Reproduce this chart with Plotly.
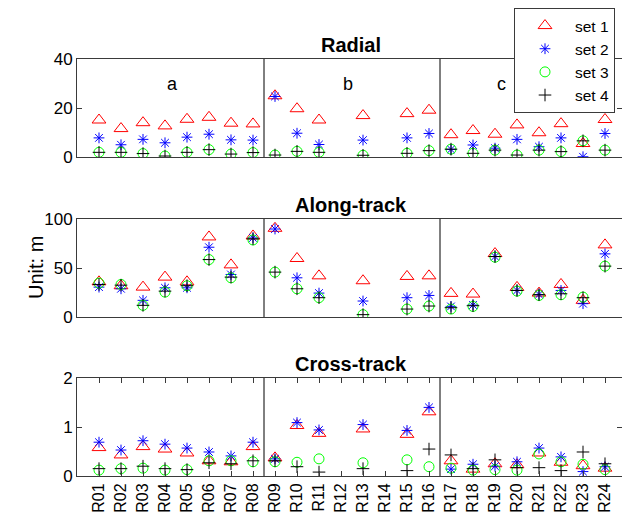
import plotly.graph_objects as go

stations = ["R%02d" % i for i in range(1, 25)]
xpos = list(range(1, len(stations) + 1))

N = None
radial_s1 = [15.1, 11.6, 14.0, 12.7, 15.4, 16.2, 13.8, 13.5, 25.0, 19.7, 15.1, N, 16.9, N, 17.7, 19.1, 9.1, 10.8, 9.3, 13.1, 9.9, 13.6, 5.5, 15.3]
radial_s2 = [7.8, 5.0, 7.2, 5.8, 8.1, 9.3, 7.0, 6.9, 24.7, 9.7, 5.1, N, 6.9, N, 7.8, 9.6, 3.1, 4.9, 3.6, 7.2, 4.2, 7.8, 0.1, 9.6]
radial_s3 = [1.9, 1.9, 1.4, 0.4, 1.9, 3.0, 1.2, 1.8, 0.8, 2.3, 1.9, N, 0.7, N, 1.5, 2.6, 3.2, 1.5, 2.8, 0.8, 2.8, 2.2, 6.6, 2.8]
radial_s4 = [1.9, 1.9, 1.4, 0.4, 1.9, 3.0, 1.2, 1.8, 0.8, 2.3, 1.9, N, 0.7, N, 1.5, 2.6, 3.2, 1.5, 2.8, 0.8, 2.8, 2.2, 6.6, 2.8]

along_s1 = [35.9, 31.9, 30.5, 40.7, 35.9, 81.7, 53.2, 82.7, 90.5, 59.7, 42.0, N, 37.0, N, 41.4, 42.0, 24.1, 23.4, 64.7, 30.2, 24.4, 33.2, 17.0, 73.6]
along_s2 = [30.5, 28.8, 17.0, 29.8, 29.8, 71.2, 43.4, 80.7, 89.8, 40.0, 24.4, N, 16.3, N, 19.7, 22.0, 10.8, 12.2, 61.7, 27.1, 23.0, 27.1, 13.6, 64.4]
along_s3 = [34.6, 33.2, 11.9, 25.4, 31.9, 58.6, 40.0, 78.6, 45.8, 28.8, 19.7, N, 2.4, N, 8.1, 11.2, 8.1, 10.8, 61.0, 26.4, 22.0, 22.7, 20.3, 51.9]
along_s4 = [33.2, 32.5, 11.9, 26.4, 31.9, 58.6, 40.7, 79.7, 45.8, 28.8, 19.7, N, 2.4, N, 8.1, 11.2, 9.5, 11.5, 61.7, 27.1, 22.7, 23.7, 19.7, 51.9]

cross_s1 = [0.58, 0.43, 0.60, 0.55, 0.47, 0.31, 0.29, 0.60, 0.37, 1.03, 0.87, N, 0.96, N, 0.85, 1.31, 0.31, 0.14, 0.25, 0.23, 0.47, 0.28, 0.21, 0.16]
cross_s2 = [0.69, 0.53, 0.72, 0.65, 0.57, 0.49, 0.41, 0.69, 0.35, 1.09, 0.94, N, 1.05, N, 0.93, 1.40, 0.14, 0.24, 0.20, 0.29, 0.57, 0.39, 0.09, 0.19]
cross_s3 = [0.12, 0.15, 0.16, 0.12, 0.13, 0.31, 0.31, 0.29, 0.29, 0.28, 0.35, N, 0.27, N, 0.33, 0.19, 0.16, 0.12, 0.13, 0.12, 0.45, 0.29, 0.24, 0.13]
cross_s4 = [0.15, 0.15, 0.20, 0.15, 0.13, 0.27, 0.25, 0.31, 0.31, 0.19, 0.08, N, 0.15, N, 0.11, 0.55, 0.43, 0.15, 0.33, 0.17, 0.17, 0.11, 0.49, 0.25]

set_names = ["set 1", "set 2", "set 3", "set 4"]
set_colors = ["#FF0000", "#0000FF", "#00FF00", "#000000"]
set_symbols = ["triangle-up-open", "asterisk-open", "circle-open", "cross-thin-open"]
set_sizes = [12, 9, 10, 9]

panels = [
    ("Radial", [radial_s1, radial_s2, radial_s3, radial_s4], [0, 40], [0, 20, 40]),
    ("Along-track", [along_s1, along_s2, along_s3, along_s4], [0, 100], [0, 50, 100]),
    ("Cross-track", [cross_s1, cross_s2, cross_s3, cross_s4], [0, 2], [0, 1, 2]),
]
group_labels = ["a", "b", "c"]
group_label_x = [4, 12, 19]
group_label_y = 30
separators = [8.5, 16.5]

W, H = 622, 522
BOT = 476
ml, mr, mt, mb = 77, 0, 59, H - BOT
ph = H - mt - mb
pw = W - ml - mr
domains = [
    [(BOT - 157) / ph, 1.0],
    [(BOT - 317) / ph, (BOT - 219) / ph],
    [0.0, (BOT - 378) / ph],
]

FONT = "Liberation Sans, Arial, Helvetica, sans-serif"
AXC = "#3a3a3a"

fig = go.Figure()
for pi, (title, series, yr, yt) in enumerate(panels):
    xa = "x" if pi == 0 else "x%d" % (pi + 1)
    ya = "y" if pi == 0 else "y%d" % (pi + 1)
    for si, vals in enumerate(series):
        fig.add_trace(go.Scatter(
            x=xpos, y=vals, mode="markers", name=set_names[si],
            showlegend=(pi == 0), xaxis=xa, yaxis=ya,
            marker=dict(symbol=set_symbols[si], size=set_sizes[si],
                        color=set_colors[si],
                        line=dict(width=1, color=set_colors[si])),
            hoverinfo="skip"))
    for sx in separators:
        fig.add_shape(type="line", xref=xa, yref=ya, x0=sx, x1=sx, y0=yr[0], y1=yr[1],
                      line=dict(color="black", width=1))
    xkey = "xaxis" if pi == 0 else "xaxis%d" % (pi + 1)
    ykey = "yaxis" if pi == 0 else "yaxis%d" % (pi + 1)
    last = pi == 2
    fig.layout[xkey] = dict(
        domain=[0, 1], anchor=ya, range=[0, pw / 22.0], automargin=False,
        tickmode="array", tickvals=xpos, ticktext=stations,
        showticklabels=last, tickangle=-90,
        ticks="inside" if last else "", ticklen=5, tickcolor=AXC,
        showline=True, linecolor=AXC, linewidth=1,
        mirror="ticks" if last else True,
        showgrid=False, zeroline=False,
        tickfont=dict(family=FONT, size=16, color="black"))
    fig.layout[ykey] = dict(
        domain=domains[pi], anchor=xa, range=yr, automargin=False,
        tickmode="array", tickvals=yt,
        ticks="inside", ticklen=5, tickcolor=AXC,
        showline=True, linecolor=AXC, linewidth=1, mirror="ticks",
        showgrid=False, zeroline=False,
        tickfont=dict(family=FONT, size=17, color="black"))
    fig.add_annotation(text="<b>%s</b>" % title, xref="paper", yref="paper",
                       x=(351 - ml) / pw, y=domains[pi][1], yshift=1, xanchor="center", yanchor="bottom",
                       showarrow=False, font=dict(family=FONT, size=20, color="black"))

for lab, lx in zip(group_labels, group_label_x):
    fig.add_annotation(text=lab, xref="x", yref="y", x=lx, y=group_label_y,
                       xanchor="left", yanchor="middle", showarrow=False,
                       font=dict(family=FONT, size=18, color="black"))

fig.add_annotation(text="Unit: m", xref="paper", yref="paper",
                   x=-(ml - 36) / pw, y=sum(domains[1]) / 2,
                   textangle=-90, xanchor="center", yanchor="middle", showarrow=False,
                   font=dict(family=FONT, size=20, color="black"))

fig.update_layout(
    template="none",
    width=W, height=H,
    margin=dict(l=ml, r=mr, t=mt, b=mb, autoexpand=False),
    paper_bgcolor="white", plot_bgcolor="white",
    showlegend=True,
    legend=dict(x=(514 - ml) / pw, xanchor="left",
                y=(BOT - 8) / ph, yanchor="top",
                bgcolor="white", bordercolor="#3a3a3a", borderwidth=1,
                font=dict(family=FONT, size=15.5, color="black"),
                tracegroupgap=0, itemwidth=50),
)

fig.write_html("out.html",
               config={"displayModeBar": False, "staticPlot": True},
               post_script="document.body.style.margin='0';document.body.style.padding='0';document.body.style.overflow='hidden';")
